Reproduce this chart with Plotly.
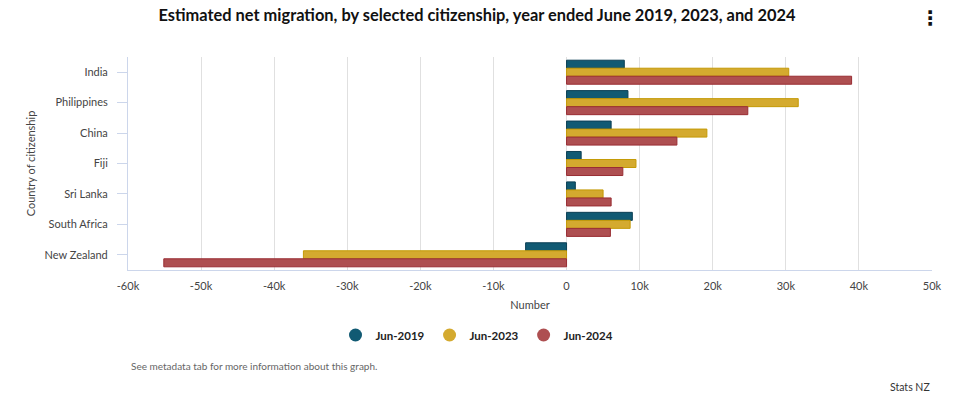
import plotly.graph_objects as go

countries = ["India", "Philippines", "China", "Fiji", "Sri Lanka", "South Africa", "New Zealand"]
series_names = ["Jun-2019", "Jun-2023", "Jun-2024"]
jun2019 = [7900, 8400, 6100, 2000, 1200, 9000, -5600]
jun2023 = [30400, 31700, 19200, 9500, 5000, 8700, -36000]
jun2024 = [39000, 24800, 15100, 7700, 6100, 6000, -55100]
x_tickvals = [-60000, -50000, -40000, -30000, -20000, -10000, 0, 10000, 20000, 30000, 40000, 50000]
x_ticktext = ["-60k", "-50k", "-40k", "-30k", "-20k", "-10k", "0", "10k", "20k", "30k", "40k", "50k"]

fills = ["#115a73", "#d4aa2f", "#ae4f51"]
lines = ["#0b3f55", "#c49a06", "#992d33"]
values = [jun2019, jun2023, jun2024]

FONT = "Lato"
L, R, T, B = 128, 22, 57, 138
W, H = 954, 408
PW, PH = W - L - R, H - T - B


def px(x):
    return (x - L) / PW


def py(y):
    return (H - B - y) / PH


fig = go.Figure()
for name, vals, fc, lc in zip(series_names, values, fills, lines):
    fig.add_trace(go.Bar(
        y=countries, x=vals, orientation="h", name=name,
        marker=dict(color=fc, line=dict(color=lc, width=1)),
        showlegend=False,
    ))
for name, fc in zip(series_names, fills):
    fig.add_trace(go.Scatter(
        x=[None], y=[None], mode="markers", name=name,
        marker=dict(symbol="circle", size=13, color=fc),
    ))

fig.update_layout(
    width=W, height=H,
    margin=dict(l=L, r=R, t=T, b=B, autoexpand=False),
    paper_bgcolor="white", plot_bgcolor="white",
    font=dict(family=FONT, size=11, color="#333333"),
    barmode="group", bargap=0.21, bargroupgap=0.0,
    title=dict(
        text="<b>Estimated net migration, by selected citizenship, year ended June 2019, 2023, and 2024</b>",
        x=0.5, xref="container", y=1 - 15 / H, yref="container", yanchor="middle",
        font=dict(family=FONT, size=16.4, color="#111111"),
    ),
    legend=dict(
        orientation="h", xref="container", x=0.5, xanchor="center",
        yref="container", y=1 - 335 / H, yanchor="middle",
        font=dict(family=FONT, size=11.5, color="#222222", weight="bold"),
        itemclick=False, itemdoubleclick=False,
    ),
    xaxis=dict(
        range=[-60000, 50000], tickvals=x_tickvals, ticktext=x_ticktext,
        showgrid=True, gridcolor="#e0e0e0", gridwidth=1, automargin=False,
        zeroline=False, showline=True, linecolor="#ccd6eb", linewidth=1,
        ticks="", ticklabelstandoff=6, tickfont=dict(size=11, color="#444444"),
        title=dict(text="Number", font=dict(size=11, color="#444444"), standoff=10),
    ),
    yaxis=dict(
        autorange="reversed", showgrid=False, zeroline=False, automargin=False,
        showline=True, linecolor="#ccd6eb", linewidth=1,
        ticks="outside", ticklen=10, tickcolor="#ccd6eb",
        ticklabelstandoff=7,
        tickfont=dict(size=11, color="#444444"),
        title=dict(text="Country of citizenship", font=dict(size=11, color="#444444"), standoff=6),
    ),
    annotations=[
        dict(text="See metadata tab for more information about this graph.",
             xref="paper", yref="paper", x=px(129), y=py(366), xanchor="left", yanchor="middle",
             showarrow=False, font=dict(family=FONT, size=10, color="#666666")),
        dict(text="Stats NZ", xref="paper", yref="paper", x=px(932), y=py(387),
             xanchor="right", yanchor="middle", showarrow=False,
             font=dict(family=FONT, size=10.5, color="#333333")),
        dict(text="<b>⋮</b>", xref="paper", yref="paper", x=px(930), y=py(18),
             xanchor="center", yanchor="middle", showarrow=False,
             font=dict(family="DejaVu Sans", size=20, color="#111111")),
    ],
)

fig.write_html("out.html", config={"displayModeBar": False},
               post_script="document.body.style.margin='0px';")
